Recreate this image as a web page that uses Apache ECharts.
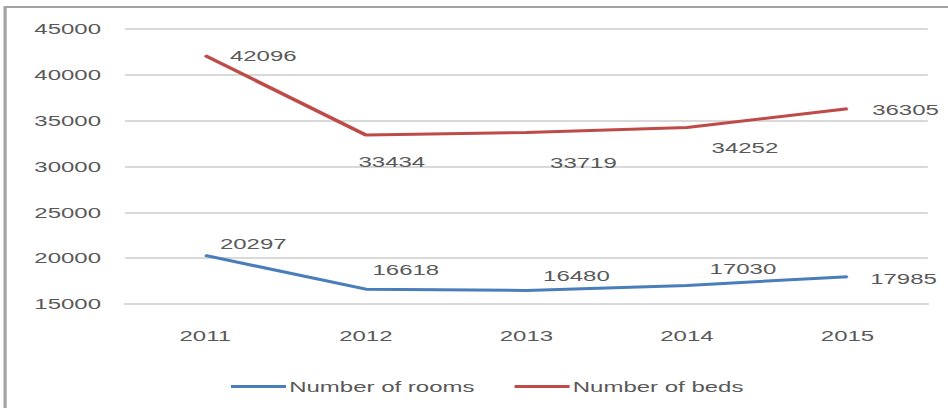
<!DOCTYPE html>
<html>
<head>
<meta charset="utf-8">
<script src="https://cdn.jsdelivr.net/npm/echarts@6/dist/echarts.min.js"></script>
<style>
  html, body { margin: 0; padding: 0; background: #ffffff; overflow: hidden; width: 948px; height: 408px; }
  #main { width: 592.5px; height: 408px; transform: scaleX(1.6); transform-origin: 0 0; }
</style>
</head>
<body>
<div id="main"></div>
<script>
// ---- data ----
const years = ['2011', '2012', '2013', '2014', '2015'];
const rooms = [20297, 16618, 16480, 17030, 17985];
const beds = [42096, 33434, 33719, 34252, 36305];
const seriesNames = ['Number of rooms', 'Number of beds'];
const yMin = 15000, yMax = 45000, yStep = 5000;

// ---- presentation ----
const SX = 1.6; // horizontal stretch of the reference image
const textColor = '#595959';
const font = 'Liberation Sans';
const roomsOffsets = [[48, -12], [40, -19], [50, -15], [56, -17], [56, 2]];
const bedsOffsets = [[58, 0], [26, 27], [57, 30], [58, 20], [58, 1]];

function withLabels(values, offsets) {
  return values.map((v, i) => ({
    value: v,
    label: { offset: [offsets[i][0] / SX, offsets[i][1]] }
  }));
}

const labelBase = {
  show: true, position: 'inside', align: 'center', verticalAlign: 'middle',
  color: textColor, fontFamily: font, fontSize: 15
};

const chart = echarts.init(document.getElementById('main'), null, { renderer: 'svg' });
chart.setOption({
  animation: false,
  backgroundColor: '#ffffff',
  graphic: [{
    type: 'rect', silent: true,
    shape: { x: 3.2, y: 7, width: 700, height: 500 },
    style: { fill: 'none', stroke: '#a3a3a3', lineWidth: 2 }
  }],
  grid: { left: 125 / SX, right: 592.5 - 927 / SX, top: 29, bottom: 104, containLabel: false },
  legend: {
    left: 223 / SX, top: 374,
    icon: 'rect', itemWidth: 55 / SX, itemHeight: 3, itemGap: 40 / SX,
    textStyle: { color: textColor, fontFamily: font, fontSize: 15, padding: [0, 0, 0, -3] },
    data: seriesNames
  },
  xAxis: {
    type: 'category', data: years, boundaryGap: true,
    axisLine: { show: true, lineStyle: { color: '#d9d9d9', width: 2 } },
    axisTick: { show: false },
    axisLabel: { color: textColor, fontFamily: font, fontSize: 15, margin: 24 }
  },
  yAxis: {
    type: 'value', min: yMin, max: yMax, interval: yStep,
    axisLine: { show: false }, axisTick: { show: false },
    axisLabel: { color: textColor, fontFamily: font, fontSize: 15, margin: 15, formatter: (v) => String(v) },
    splitLine: { lineStyle: { color: '#d9d9d9', width: 2 } }
  },
  series: [
    {
      name: seriesNames[0], type: 'line', data: withLabels(rooms, roomsOffsets),
      symbol: 'circle', symbolSize: 1, showSymbol: true,
      lineStyle: { color: '#4a7ebb', width: 3 }, itemStyle: { color: '#4a7ebb' },
      label: labelBase
    },
    {
      name: seriesNames[1], type: 'line', data: withLabels(beds, bedsOffsets),
      symbol: 'circle', symbolSize: 1, showSymbol: true,
      lineStyle: { color: '#be4b48', width: 3 }, itemStyle: { color: '#be4b48' },
      label: labelBase
    }
  ]
});
</script>
</body>
</html>
